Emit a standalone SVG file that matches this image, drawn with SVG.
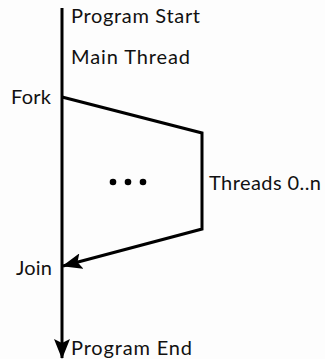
<svg xmlns="http://www.w3.org/2000/svg" width="325" height="359" viewBox="0 0 325 359">
<style>
text{font-family:Lato,"Open Sans",sans-serif;font-size:20px;fill:#111}
.ln{fill:none;stroke:#000;stroke-width:3;stroke-linejoin:miter}
</style>
<defs>
<marker id="ah" markerWidth="20" markerHeight="16" refX="19" refY="8" orient="auto" markerUnits="userSpaceOnUse">
<path d="M0,0 L20,8 L0,16 L4,8 Z" fill="#000"/>
</marker>
</defs>
<rect width="325" height="359" fill="#fdfdfd"/>
<g id="connectors">
<path class="ln" d="M62,8 V358" marker-end="url(#ah)"/>
<path class="ln" d="M62,97 L202,133 V229 L63,266" marker-end="url(#ah)"/>
</g>
<g id="dots">
<circle cx="113" cy="182" r="3.3"/>
<circle cx="128" cy="182" r="3.3"/>
<circle cx="143" cy="182" r="3.3"/>
</g>
<g id="program-start"><text x="71" y="23" textLength="129">Program Start</text></g>
<g id="main-thread"><text x="71" y="64" textLength="119">Main Thread</text></g>
<g id="fork"><text x="11" y="104" textLength="40">Fork</text></g>
<g id="threads"><text x="209" y="190" textLength="112">Threads 0..n</text></g>
<g id="join"><text x="16" y="275" textLength="36">Join</text></g>
<g id="program-end"><text x="71" y="355" textLength="121">Program End</text></g>
</svg>
